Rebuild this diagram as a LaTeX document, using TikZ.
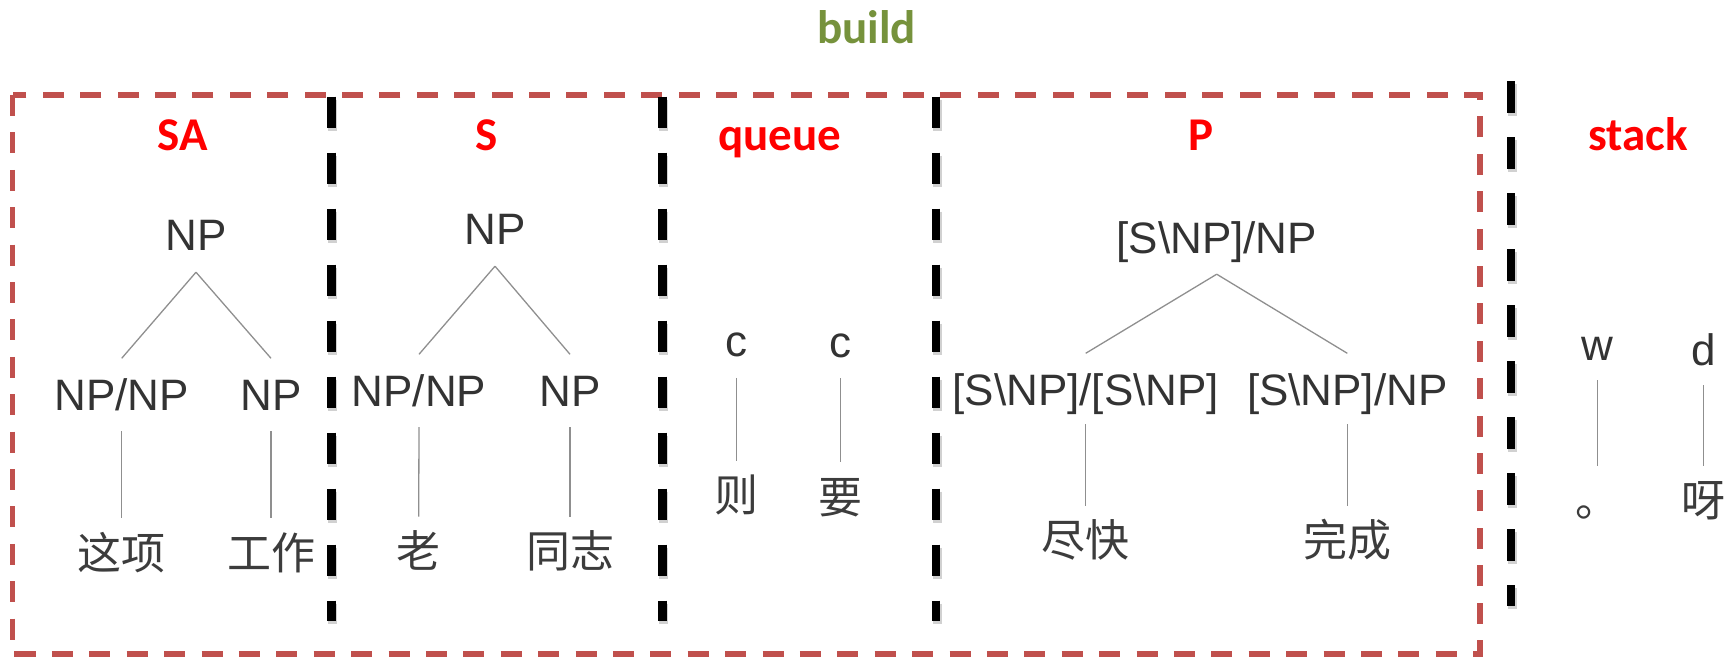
\documentclass[tikz,border=0pt]{standalone}
\usepackage{fontspec}
\setmainfont{Liberation Sans}
\newfontfamily\labelfont{Carlito}
\newfontfamily\cjkfont{Noto Sans CJK SC}
\definecolor{boxred}{HTML}{C0504D}
\definecolor{labred}{HTML}{FF0000}
\definecolor{buildgreen}{HTML}{76923C}
\definecolor{txtgray}{HTML}{333333}
\definecolor{cjkgray}{HTML}{3C3C3C}
\definecolor{linegray}{HTML}{8F8F8F}
\begin{document}
\begin{tikzpicture}[x=1pt,y=-1pt,
  boxline/.style={draw=boxred, line width=5.5pt, dash pattern=on 21pt off 16.4pt},
  divider/.style={draw=black, line width=8.5pt, dash pattern=on 31.5pt off 24.5pt},
  dividershadow/.style={draw=black, opacity=0.18, line width=9pt, dash pattern=on 31.5pt off 24.5pt},
  title/.style={font=\labelfont\bfseries\fontsize{47}{56}\selectfont, text=buildgreen, anchor=base, inner sep=0pt},
  lab/.style={font=\labelfont\bfseries\fontsize{47}{56}\selectfont, text=labred, anchor=base, inner sep=0pt},
  cat/.style={font=\fontsize{44}{52}\selectfont, text=txtgray, anchor=base, inner sep=0pt, text height=31.5pt, text depth=0pt},
  word/.style={font=\cjkfont\fontsize{44}{52}\selectfont, text=cjkgray, anchor=base, inner sep=0pt},
  edge/.style={draw=linegray, line width=1.3pt}
]
\useasboundingbox (0,0) rectangle (1726,657);

% outer dashed box
\coordinate (bxa) at (12.5,95);
\coordinate (bxb) at (1480,654);
\draw[boxline] (bxa) rectangle (bxb);

% dividers
\coordinate (d1t) at (331.5,96.5);  \coordinate (d1b) at (331.5,621);
\coordinate (d2t) at (662.5,96.5);  \coordinate (d2b) at (662.5,621);
\coordinate (d3t) at (936,96.5);    \coordinate (d3b) at (936,621);
\coordinate (d4t) at (1511,81);     \coordinate (d4b) at (1511,606);
\foreach \a/\b in {d1t/d1b,d2t/d2b,d3t/d3b,d4t/d4b}{
  \draw[dividershadow] ([shift={(1pt,-3pt)}]\a) -- ([shift={(1pt,-3pt)}]\b);
  \draw[divider] (\a) -- (\b);
}

% titles
\node[title] (build) at (866.7,43.3) {build};
\node[lab] (lsa) at (182.5,150) {SA};
\node[lab] (ls) at (486.7,150) {S};
\node[lab] (lq) at (780,150) {queue};
\node[lab] (lp) at (1200.7,150) {P};
\node[lab] (lst) at (1638,150) {stack};

% SA tree
\node[cat] (sar) at (196,250) {NP};
\node[cat] (saa) at (121.7,410) {NP/NP};
\node[cat] (sab) at (271,410) {NP};
\node[word] (sawa) at (121.7,569) {这项};
\node[word] (sawb) at (271,569) {工作};
\draw[edge] ([yshift=-22pt]sar.south) -- ([yshift=20pt]saa.north);
\draw[edge] ([yshift=-22pt]sar.south) -- ([yshift=20pt]sab.north);
\draw[edge] ([yshift=-21pt]saa.south) -- ([yshift=51pt]sawa.base);
\draw[edge] ([yshift=-21pt]sab.south) -- ([yshift=51pt]sawb.base);

% S tree
\node[cat] (sr) at (495,244) {NP};
\node[cat] (sa) at (419,406) {NP/NP};
\node[cat] (sb) at (570,406) {NP};
\node[word] (swa) at (418.7,567.7) {老};
\node[word] (swb) at (570,567.7) {同志};
\draw[edge] ([yshift=-22pt]sr.south) -- ([yshift=20pt]sa.north);
\draw[edge] ([yshift=-22pt]sr.south) -- ([yshift=20pt]sb.north);
\draw[edge] ([yshift=-21pt]sa.south) -- ([yshift=51pt]swa.base);
\draw[edge] ([yshift=-21pt]sb.south) -- ([yshift=51pt]swb.base);

% queue
\node[cat] (qa) at (736.7,356.7) {c};
\node[cat] (qb) at (840.7,357) {c};
\node[word] (qwa) at (736.7,511.7) {则};
\node[word] (qwb) at (840.7,513) {要};
\draw[edge] ([yshift=-21pt]qa.south) -- ([yshift=51pt]qwa.base);
\draw[edge] ([yshift=-21pt]qb.south) -- ([yshift=51pt]qwb.base);

% P tree
\node[cat] (pr) at (1216.7,253) {[S\textbackslash NP]/NP};
\node[cat] (pa) at (1085.7,405) {[S\textbackslash NP]/[S\textbackslash NP]};
\node[cat] (pb) at (1347.3,405) {[S\textbackslash NP]/NP};
\node[word] (pwa) at (1085.7,556.7) {尽快};
\node[word] (pwb) at (1347.3,556.7) {完成};
\draw[edge] ([yshift=-21pt]pr.south) -- ([yshift=20pt]pa.north);
\draw[edge] ([yshift=-21pt]pr.south) -- ([yshift=20pt]pb.north);
\draw[edge] ([yshift=-19pt]pa.south) -- ([yshift=51pt]pwa.base);
\draw[edge] ([yshift=-19pt]pb.south) -- ([yshift=51pt]pwb.base);

% stack
\node[cat] (kw) at (1597.7,360) {w};
\node[cat] (kd) at (1703.3,365) {d};
\node[word] (kww) at (1597.7,516) {。};
\node[word] (kwd) at (1703.3,516) {呀};
\draw[edge] ([yshift=-20pt]kw.south) -- ([yshift=50pt]kww.base);
\draw[edge] ([yshift=-20pt]kd.south) -- ([yshift=50pt]kwd.base);
\end{tikzpicture}
\end{document}
